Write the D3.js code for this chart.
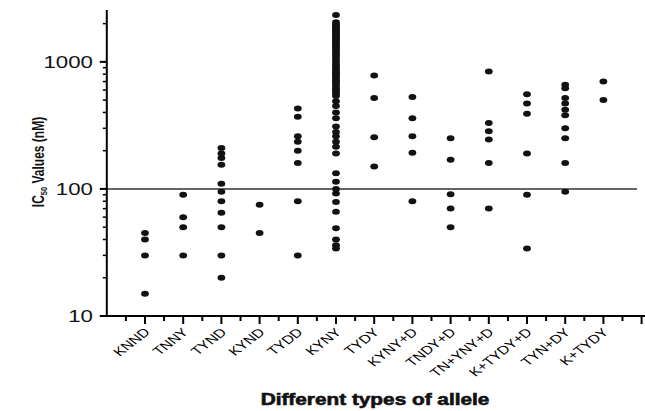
<!DOCTYPE html>
<html><head><meta charset="utf-8">
<script src="https://cdn.jsdelivr.net/npm/d3@7/dist/d3.min.js"></script>
<style>body{margin:0;background:#fff}svg{display:block}</style>
</head><body><svg id="c" width="645" height="411"></svg>
<script>
const categories = ["KNND","TNNY","TYND","KYND","TYDD","KYNY","TYDY","KYNY+D","TNDY+D","TN+YNY+D","K+TYDY+D","TYN+DY","K+TYDY"];
const vKNND = [45, 40, 30, 15];
const vTNNY = [90, 60, 50, 30];
const vTYND = [210, 190, 175, 155, 110, 95, 80, 65, 50, 30, 20];
const vKYND = [75, 45];
const vTYDD = [430, 370, 260, 235, 200, 160, 80, 30];
const vKYNY = [2340, 2050, 1980, 1900, 1850, 1800, 1740, 1700, 1640, 1600, 1550, 1500, 1450, 1400, 1350, 1300, 1250, 1200, 1150, 1100, 1050, 1000, 960, 920, 880, 850, 820, 800, 780, 750, 720, 700, 680, 650, 620, 600, 580, 560, 540,
  490, 450, 400, 360, 310, 280, 260, 235, 215, 190, 133, 114, 100, 92, 79, 66, 49, 40, 36, 34];
const vTYDY = [780, 520, 255, 150];
const vKYNYD = [530, 360, 260, 193, 80];
const vTNDYD = [250, 170, 91, 70, 50];
const vTNYNYD = [840, 330, 285, 245, 160, 70];
const vKTYDYD = [555, 470, 390, 190, 90, 34];
const vTYNDY = [660, 620, 520, 470, 420, 380, 300, 250, 160, 95];
const vKTYDY = [700, 500];
const seriesValues = [vKNND, vTNNY, vTYND, vKYND, vTYDD, vKYNY, vTYDY, vKYNYD, vTNDYD, vTNYNYD, vKTYDYD, vTYNDY, vKTYDY];
const yTickLabels = ["10", "100", "1000"];
const refLine = 100;

const SX = 1.3; // horizontal stretch of the original figure
const FONT = "Liberation Sans, Arial, Helvetica, sans-serif";
const svg = d3.select("#c");
const x = d3.scaleLinear().domain([0, 14]).range([106.8, 641.6]);
const y = d3.scaleLog().domain([10, 2560]).range([316, 10]);

// reference line
svg.append("line").attr("x1", x(0)).attr("x2", 637).attr("y1", y(refLine)).attr("y2", y(refLine))
  .attr("stroke", "#333").attr("stroke-width", 1.5);

// points
const pts = [];
seriesValues.forEach((arr, i) => arr.forEach(v => pts.push({i: i + 1, v})));
svg.append("g").selectAll("ellipse").data(pts).join("ellipse")
  .attr("cx", d => x(d.i)).attr("cy", d => y(d.v)).attr("rx", 3.9).attr("ry", 3.0).attr("fill", "#121212");

// x axis
const gx = svg.append("g");
gx.append("line").attr("x1", x(0) - 1).attr("x2", 645).attr("y1", 316).attr("y2", 316).attr("stroke", "#000").attr("stroke-width", 2);
const major = d3.range(1, 15), minor = d3.range(0.5, 14, 1);
gx.selectAll(".mj").data(major).join("line").attr("x1", d => x(d)).attr("x2", d => x(d)).attr("y1", 316).attr("y2", 324).attr("stroke", "#000").attr("stroke-width", 2);
gx.selectAll(".mn").data(minor).join("line").attr("x1", d => x(d)).attr("x2", d => x(d)).attr("y1", 316).attr("y2", 321).attr("stroke", "#000").attr("stroke-width", 2);
gx.selectAll("text").data(categories).join("text")
  .attr("transform", (d, i) => `translate(${x(i + 1) + 6},${333}) scale(${SX},1) rotate(-45)`)
  .attr("text-anchor", "end").attr("font-family", FONT).attr("font-size", 12)
  .attr("fill", "#000").text(d => d);

// y axis
const gy = svg.append("g");
gy.append("line").attr("x1", x(0)).attr("x2", x(0)).attr("y1", 10).attr("y2", 317).attr("stroke", "#000").attr("stroke-width", 2);
const yMajor = [10, 100, 1000];
const yMinor = [20,30,40,50,60,70,80,90,200,300,400,500,600,700,800,900,2000];
gy.selectAll(".ymj").data(yMajor).join("line").attr("x1", x(0) - 7).attr("x2", x(0)).attr("y1", d => y(d)).attr("y2", d => y(d)).attr("stroke", "#000").attr("stroke-width", 2);
gy.selectAll(".ymn").data(yMinor).join("line").attr("x1", x(0) - 4).attr("x2", x(0)).attr("y1", d => y(d)).attr("y2", d => y(d)).attr("stroke", "#000").attr("stroke-width", 1.5);
gy.selectAll("text").data(yTickLabels).join("text")
  .attr("transform", (d, i) => `translate(93,${y(yMajor[i]) + 6}) scale(1.35,1)`)
  .attr("text-anchor", "end").attr("font-family", FONT).attr("font-size", 16.5)
  .attr("fill", "#111").text(d => d);

// axis titles
const yt = svg.append("text").attr("transform", `translate(43.5,162) scale(${SX},1) rotate(-90)`)
  .attr("text-anchor", "middle").attr("font-family", FONT).attr("font-weight", "bold").attr("font-size", 12).attr("fill", "#111");
yt.append("tspan").text("IC");
yt.append("tspan").attr("font-size", 7.5).attr("dy", 3).text("50");
yt.append("tspan").attr("dy", -3).text(" Values (nM)");

svg.append("text").attr("transform", `translate(375,405) scale(${SX},1)`).attr("text-anchor", "middle")
  .attr("font-family", FONT).attr("font-weight", "bold").attr("font-size", 16)
  .attr("stroke", "#111").attr("stroke-width", 0.6)
  .attr("fill", "#111").text("Different types of allele");
</script></body></html>
